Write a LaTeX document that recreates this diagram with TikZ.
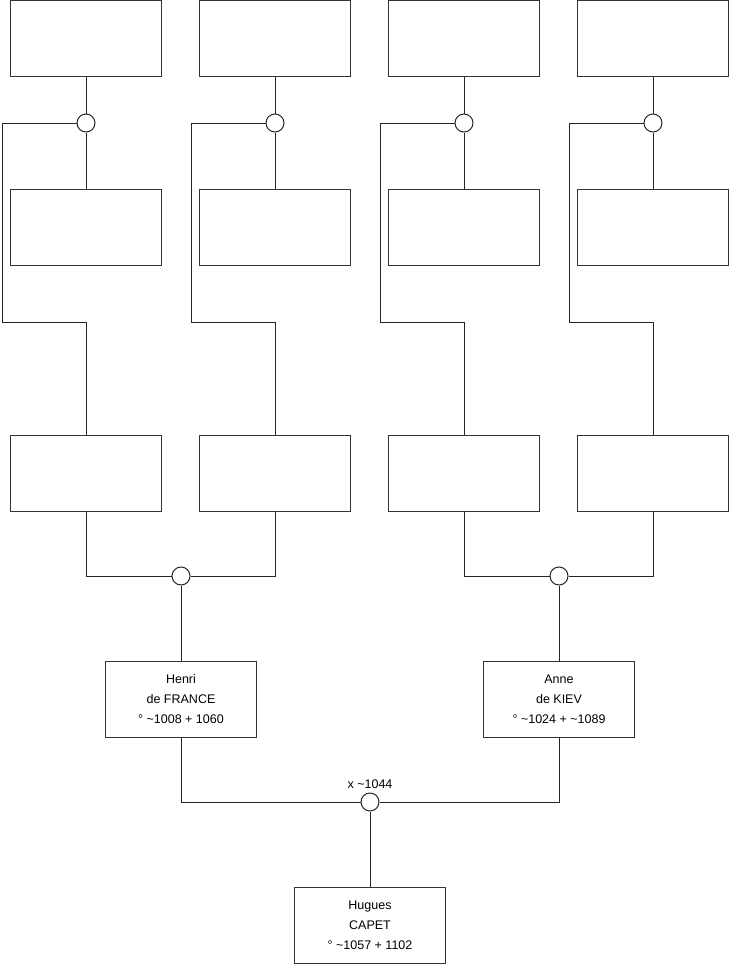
\documentclass[tikz,border=0pt]{standalone}
\usepackage{fontspec}
\setmainfont{Liberation Sans}
\begin{document}
\begin{tikzpicture}[x=1pt,y=-1pt,
  pbox/.style={draw=black!80,line width=1pt,fill=white,minimum width=151pt,minimum height=76pt,inner sep=0pt,align=center,font=\fontsize{12.5}{20}\selectfont},
  knot/.style={draw=black!85,line width=1pt,circle,fill=white,minimum size=18pt,inner sep=0pt},
  wire/.style={draw=black!85,line width=1pt}]
\useasboundingbox (0,0) rectangle (740,975);
% rows of empty boxes
\foreach \i/\x in {1/86,2/275,3/464,4/653}{
  \node[pbox] (t\i) at (\x,38) {};
  \node[pbox] (s\i) at (\x,227) {};
  \node[pbox] (r\i) at (\x,473) {};
  \node[knot] (c\i) at (\x,123) {};
  \coordinate (k\i) at (\x-84,322);
}
\foreach \i in {1,2,3,4}{
  \draw[wire] (t\i.south) -- (c\i.north);
  \draw[wire] (c\i.south) -- (s\i.north);
  \draw[wire] (c\i.west) -| (k\i) -| (r\i.north);
}
\node[knot] (m1) at (181,576) {};
\node[knot] (m2) at (559,576) {};
\draw[wire] (r1.south) |- (m1.west);
\draw[wire] (r2.south) |- (m1.east);
\draw[wire] (r3.south) |- (m2.west);
\draw[wire] (r4.south) |- (m2.east);
\node[pbox] (henri) at (181,699) {Henri\\de FRANCE\\° \textasciitilde1008 + 1060};
\node[pbox] (anne) at (559,699) {Anne\\de KIEV\\° \textasciitilde1024 + \textasciitilde1089};
\draw[wire] (m1.south) -- (henri.north);
\draw[wire] (m2.south) -- (anne.north);
\node[knot] (b) at (370,802) {};
\node[anchor=south,inner sep=0pt,font=\fontsize{12.5}{15}\selectfont] (lbl) at ([yshift=4pt]b.north) {x \textasciitilde1044};
\draw[wire] (henri.south) |- (b.west);
\draw[wire] (anne.south) |- (b.east);
\node[pbox] (hugues) at (370,925) {Hugues\\CAPET\\° \textasciitilde1057 + 1102};
\draw[wire] (b.south) -- (hugues.north);
\end{tikzpicture}
\end{document}
